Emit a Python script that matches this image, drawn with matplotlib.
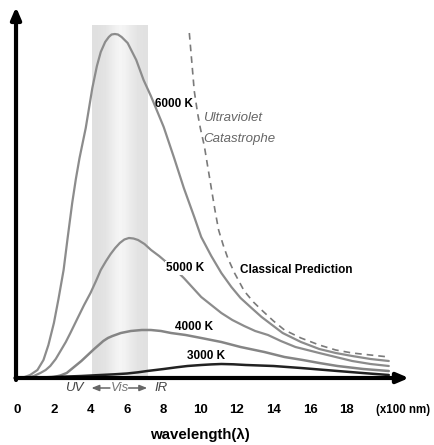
import numpy as np
import matplotlib
matplotlib.use("Agg")
import matplotlib.pyplot as plt

# blackbody curves (x in units of 100 nm, y arbitrary intensity)
x_6000 = [0.0, 0.4, 0.7, 1.1, 1.43, 1.7, 2.0, 2.25, 2.53, 2.75, 3.0, 3.2, 3.4, 3.74, 4.1, 4.35,
          4.56, 4.8, 5.0, 5.15, 5.33, 5.5, 5.7, 6.03, 6.5, 6.9, 7.3, 8.0, 8.57, 9.1, 9.69,
          10.05, 10.6, 11.15, 11.7, 12.2, 12.8, 13.35, 14.5, 15.5, 16.5, 17.4, 18.3, 19.3, 20.3]
y_6000 = [0, 1, 3, 8, 18, 33, 55, 79, 108, 140, 175, 199, 220, 250, 290, 312,
          326, 336, 341, 343.5, 344, 343.5, 341, 335, 318, 298, 282, 251, 220, 190, 160,
          141, 122, 105, 91, 80, 70, 61, 45, 36, 29, 25, 22, 19, 17]

x_5000 = [0.5, 0.9, 1.26, 1.55, 1.8, 2.1, 2.36, 2.65, 2.9, 3.3, 3.65, 4.0, 4.3, 4.56, 4.85, 5.1,
          5.35, 5.6, 5.85, 6.1, 6.35, 6.6, 6.95, 7.31, 7.75, 8.2, 8.65, 9.1, 9.6, 10.05, 10.6,
          11.15, 11.75, 12.4, 13.0, 13.7, 14.4, 15.2, 16.5, 17.4, 18.3, 19.3, 20.3]
y_5000 = [0, 2, 5, 8, 12, 19, 27, 36, 45, 60, 73, 85, 97, 108, 117, 124,
          130, 135, 138.5, 140, 139.5, 138, 134, 128, 122, 115, 108, 100, 90, 81, 73,
          65, 58, 52, 47, 43, 37, 31, 25, 21, 17, 14, 12]

x_4000 = [1.5, 2.0, 2.35, 2.7, 3.1, 3.5, 3.85, 4.2, 4.45, 4.7, 4.95, 5.2, 5.66, 6.2, 6.8, 7.3,
          7.85, 8.4, 9.2, 10.05, 11.15, 12.2, 13.5, 14.6, 15.6, 16.5, 17.5, 18.9, 20.3]
y_4000 = [0, 1, 2.5, 5, 11, 17, 23, 29, 33, 37, 40, 42, 45, 47, 48, 48,
          47, 45, 43, 40, 36, 31, 26, 21, 18, 15, 12, 9, 7]

x_3000 = [0.5, 2.0, 3.5, 4.56, 5.3, 6.0, 6.6, 7.1, 8.0, 8.7, 9.3, 10.05, 10.6, 11.15, 11.8,
          12.5, 14.0, 15.5, 17.5, 19.0, 20.3]
y_3000 = [0, 1, 2, 3, 3.7, 4.5, 5.7, 7, 9, 10.7, 12, 13, 13.6, 14, 13.7,
          13, 12, 10, 7, 4.8, 3]

x_classical = [9.4, 9.55, 9.67, 9.85, 10.0, 10.22, 10.4, 10.6, 10.8, 11.0, 11.25, 11.5, 11.87,
               12.4, 12.9, 13.35, 14.0, 14.6, 15.5, 16.5, 17.4, 18.3, 19.3, 20.3]
y_classical = [345, 313, 287, 265, 250, 232, 212, 190, 168, 148, 133, 120, 105,
               87, 76, 68, 57, 48, 40, 33, 28, 25, 23, 21]

visible_band = [4.1, 7.15]
tick_values = [0, 2, 4, 6, 8, 10, 12, 14, 16, 18]

plt.rcParams["font.family"] = ["Liberation Sans", "DejaVu Sans"]

fig = plt.figure(figsize=(4.35, 4.45), dpi=100)
ax = fig.add_axes([0, 0, 1, 1])
ax.set_xlim(-17.3 / 18.3, (435 - 17.3) / 18.3)
ax.set_ylim(-67, 378)
ax.axis("off")

# visible band with a soft lighter centre
grad = np.array([[0.875, 0.88, 0.89, 0.91, 0.94, 0.965, 0.95, 0.92, 0.9, 0.885, 0.88]])
ax.imshow(grad, cmap="gray", vmin=0, vmax=1, aspect="auto", interpolation="bicubic",
          extent=[visible_band[0], visible_band[1], 0, 353], zorder=0)

style = dict(solid_joinstyle="round", solid_capstyle="round", zorder=3)
ax.plot(x_6000, y_6000, color="#8c8c8c", lw=1.6, **style)
ax.plot(x_5000, y_5000, color="#8c8c8c", lw=1.6, **style)
ax.plot(x_4000, y_4000, color="#858585", lw=1.8, **style)
ax.plot(x_3000, y_3000, color="#222222", lw=1.8, **style)
ax.plot(x_classical, y_classical, color="#7a7a7a", lw=1.2, ls=(0, (4, 3)), zorder=3)

# axes with arrows
ax.annotate("", xy=(21.4, 0), xytext=(-0.1, 0),
            arrowprops=dict(arrowstyle="-|>,head_length=0.7,head_width=0.3", color="black", lw=3,
                            shrinkA=0, shrinkB=0), zorder=5)
ax.annotate("", xy=(-0.07, 371), xytext=(-0.07, -2),
            arrowprops=dict(arrowstyle="-|>,head_length=0.7,head_width=0.3", color="black", lw=3,
                            shrinkA=0, shrinkB=0), zorder=5)

for t in tick_values:
    ax.text(t, -32, str(t), ha="center", va="center", fontsize=9.5, fontweight="bold")
ax.text(19.6, -32, "(x100 nm)", ha="left", va="center", fontsize=8.3, fontweight="bold")
ax.text(10.0, -57, "wavelength(λ)", ha="center", va="center", fontsize=10.8, fontweight="bold")

ax.text(3.1, -10, "UV", ha="center", va="center", fontsize=9.5, style="italic", color="#444444")
ax.text(5.6, -10, "Vis", ha="center", va="center", fontsize=9.5, style="italic", color="#777777")
ax.text(7.85, -10, "IR", ha="center", va="center", fontsize=9.5, style="italic", color="#444444")
ax.annotate("", xy=(4.05, -10), xytext=(5.06, -10),
            arrowprops=dict(arrowstyle="-|>,head_length=0.45,head_width=0.18", color="#666666", lw=1.1,
                            shrinkA=0, shrinkB=0))
ax.annotate("", xy=(7.1, -10), xytext=(6.08, -10),
            arrowprops=dict(arrowstyle="-|>,head_length=0.45,head_width=0.18", color="#666666", lw=1.1,
                            shrinkA=0, shrinkB=0))

box = dict(facecolor="white", edgecolor="none", pad=0.5)
ax.text(7.52, 274, "6000 K", ha="left", va="center", fontsize=8.5, fontweight="bold", zorder=4)
ax.text(10.15, 260, "Ultraviolet", ha="left", va="center", fontsize=9.5, style="italic", color="#666666")
ax.text(10.15, 239, "Catastrophe", ha="left", va="center", fontsize=9.5, style="italic", color="#666666")
ax.text(8.13, 110, "5000 K", ha="left", va="center", fontsize=8.5, fontweight="bold", bbox=box, zorder=4)
ax.text(12.17, 108, "Classical Prediction", ha="left", va="center", fontsize=8.5, fontweight="bold")
ax.text(8.62, 51, "4000 K", ha="left", va="center", fontsize=8.5, fontweight="bold", zorder=4)
ax.text(9.27, 22, "3000 K", ha="left", va="center", fontsize=8.5, fontweight="bold", zorder=4)

fig.savefig("out.png", dpi=100)
